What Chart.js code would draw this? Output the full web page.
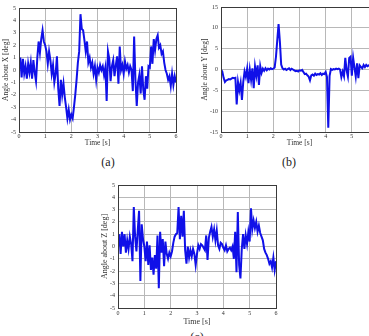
<!DOCTYPE html>
<html>
<head>
<meta charset="utf-8">
<script src="https://cdn.jsdelivr.net/npm/chart.js@4.4.1/dist/chart.umd.min.js"></script>
<style>
  html, body { margin: 0; padding: 0; background: #fff; }
  body { width: 369px; height: 336px; overflow: hidden; position: relative; font-family: "Liberation Serif", serif; }
  canvas { position: absolute; }
  #chartA { left: 0; top: 0; }
  #chartB { left: 199px; top: 0; }
  #chartC { left: 98px; top: 177px; }
  .caption { position: absolute; font-size: 12px; line-height: 12px; color: #222; transform: translateX(-50%); }
</style>
</head>
<body>
<canvas id="chartA" width="180" height="148"></canvas>
<canvas id="chartB" width="183" height="148"></canvas>
<canvas id="chartC" width="182" height="150"></canvas>
<div class="caption" style="left:108px; top:156px;">(a)</div>
<div class="caption" style="left:289px; top:156px;">(b)</div>
<div class="caption" style="left:197px; top:331px;">(c)</div>

<script>
// --- DATA (sampled every 0.05 s, 0..6 s) ---
const TIME_STEP = 0.05;

const angleX = [
  0.2, 1.0, -0.6, 0.9, -0.3, 0.3, -0.7, 0.5, -0.2, 0.6,
  -0.7, 0.8, -0.2, -0.9, 1.0, 2.3, 1.4, 2.5, 3.2, 2.3,
  2.0, 1.5, 0.5, 1.5, 0.8, -0.3, 0.4, -1.0, -0.3, 1.1,
  -1.5, -2.9, -0.8, -2.0, -1.1, -2.2, -3.0, -3.9, -3.2, -4.0,
  -3.6, -3.9, -3.0, -2.0, -0.8, 0.6, 1.5, 4.5, 3.3, 3.2,
  2.4, 1.5, 2.3, 0.6, 1.0, 0.2, 0.6, -0.3, 0.3, -0.8,
  0.2, -0.2, 0.4, 0.0, 0.3, -0.4, 0.2, -2.5, 1.5, 0.9,
  -0.9, 0.3, 0.8, -0.5, 0.4, 1.1, -1.1, 1.9, 0.0, 0.4,
  -0.3, 0.7, 0.1, 0.4, -0.2, 0.3, 0.0, -1.7, 2.7, -0.8,
  -2.9, -1.0, -0.4, -1.9, 0.3, -1.6, -2.4, -0.5, -1.5, 0.3,
  0.2, 1.9, 0.5, 2.5, 1.6, 2.5, 2.8, 1.8, 2.0, 1.3,
  1.5, 0.6, 0.0, -0.3, -0.8, -0.5, -1.3, -0.3, -1.2, -0.5,
  -1.0
];

const angleY = [
  0.0, -0.5, -2.0, -3.0, -2.6, -2.5, -2.3, -2.4, -2.2, -2.0,
  -2.1, -2.0, -8.4, -3.0, -5.0, -3.2, -7.3, -3.0, -0.5, -1.8,
  0.2, -3.3, 0.0, -2.5, 0.3, -4.5, 0.7, -1.5, 1.0, -3.7,
  0.8, -0.8, 0.2, -0.3, 0.3, -0.2, 0.2, 0.0, 0.3, 0.1,
  0.2, 0.5, 3.0, 7.0, 10.9, 6.7, 1.2, 0.3, 0.0, 0.2,
  -0.1, 0.1, 0.3, -0.1, 0.2, 0.0, -0.2, -0.4, -0.3, -0.5,
  -0.2, -0.3, -0.1, -0.6, -1.1, -1.0, -1.4, -1.7, -2.6, -1.4,
  -1.2, -1.5, -1.0, -1.3, -1.1, -1.2, -0.9, -1.3, -1.0, -1.1,
  -0.6, -1.8, -14.0, -1.5, 0.1, -0.1, 0.1, 0.0, 0.2, 0.1,
  0.2, 0.0, -1.8, -0.5, -1.6, 2.8, -0.2, -1.7, 2.8, 3.1,
  -1.5, 2.8, 0.5, -1.7, 1.5, -2.1, 1.0, 0.6, 0.3, 1.1,
  0.6, 1.1, 0.8, 1.0, 0.9, 1.2, 0.9, 1.0, 0.9, 1.0,
  1.0
];

const angleZ = [
  0.0, 1.0, -0.6, 1.2, 0.0, 1.0, -0.5, 0.5, -0.2, 0.8,
  0.2, -1.2, 3.2, 0.8, -0.4, 1.3, 2.9, -2.8, 1.8, 0.6,
  0.0, -1.2, 0.4, -1.5, 0.1, -1.9, -0.9, -2.3, -0.7, -1.8,
  0.9, -3.4, 1.2, -0.5, 0.6, -1.6, 0.4, -0.6, -1.0, -0.5,
  -0.8, -0.4, 0.3, 0.8, 1.0, 1.1, 3.2, 0.6, 2.5, 0.8,
  2.9, -0.3, -1.4, 0.0, -0.9, -0.3, -0.8, -0.2, -0.6, -1.5,
  -0.6, 0.1, -0.2, 0.2, 0.1, -0.1, -0.3, 0.9, -1.1, 0.7,
  1.2, 1.6, 0.8, 1.4, 0.5, 1.3, 0.1, -0.2, 0.3, 0.2,
  -0.1, -0.3, 0.1, -0.4, -0.2, -0.1, -0.3, 0.0, -1.0, 1.2,
  -2.1, 2.8, -1.5, -2.6, -0.2, 1.0, -0.2, 0.9, 0.2, 1.2,
  0.4, 3.1, 1.4, 2.1, 1.5, 2.0, 1.2, 1.7, 1.1, 0.8,
  0.5, -0.2, -0.5, -0.7, -1.0, -1.4, -1.2, -1.7, -0.9, -1.9,
  -1.2
];

const timeTicks = [0, 1, 2, 3, 4, 5, 6];
const yTicksSmall = [-5, -4, -3, -2, -1, 0, 1, 2, 3, 4, 5];
const yTicksWide = [-15, -10, -5, 0, 5, 10, 15];

const times = angleX.map((_, i) => +(i * TIME_STEP).toFixed(2));

// --- STYLE ---
const LINE_BLUE = '#1010e8';
const GRID_GRAY = '#b8b8b8';
const TEXT_COLOR = '#333';
const FONT = '"Liberation Serif", "Times New Roman", serif';

// draws the closed box round the plot area (MATLAB style)
const frameBox = {
    id: 'frameBox',
    afterDraw(chart) {
        const { ctx, chartArea: a } = chart;
        ctx.save();
        ctx.strokeStyle = '#3a3a3a';
        ctx.lineWidth = 1;
        ctx.strokeRect(a.left + 0.5, a.top + 0.5, a.right - a.left, a.bottom - a.top);
        ctx.restore();
    }
};

function buildChart(id, values, yTicks, yTitle, box) {
    const ctx = document.getElementById(id).getContext('2d');
    return new Chart(ctx, {
        type: 'line',
        data: {
            datasets: [{
                data: values.map((v, i) => ({ x: times[i], y: v })),
                borderColor: LINE_BLUE,
                borderWidth: 2,
                pointRadius: 0,
                tension: 0,
                fill: false
            }]
        },
        options: {
            responsive: false,
            animation: false,
            events: [],
            layout: { padding: { top: box.top, right: 4, left: 0, bottom: 0 } },
            plugins: { legend: { display: false }, tooltip: { enabled: false } },
            scales: {
                x: {
                    type: 'linear',
                    min: timeTicks[0],
                    max: timeTicks[timeTicks.length - 1],
                    afterBuildTicks: s => { s.ticks = timeTicks.map(v => ({ value: v })); },
                    afterFit: s => { s.height = box.xHeight; },
                    ticks: { padding: box.xPad, color: TEXT_COLOR, font: { family: FONT, size: 6 } },
                    grid: { color: GRID_GRAY, drawTicks: false },
                    border: { display: false },
                    title: { display: true, text: 'Time [s]', padding: 0, color: TEXT_COLOR, font: { family: FONT, size: box.titleSize } }
                },
                y: {
                    min: yTicks[0],
                    max: yTicks[yTicks.length - 1],
                    afterBuildTicks: s => { s.ticks = yTicks.map(v => ({ value: v })); },
                    afterFit: s => { s.width = box.yWidth; },
                    ticks: { padding: 3, color: TEXT_COLOR, font: { family: FONT, size: 6 } },
                    grid: { color: GRID_GRAY, drawTicks: false },
                    border: { display: false },
                    title: { display: true, text: yTitle, padding: { top: 2, bottom: 0 }, color: TEXT_COLOR, font: { family: FONT, size: box.titleSize } }
                }
            }
        },
        plugins: [frameBox]
    });
}

buildChart('chartA', angleX, yTicksSmall, 'Angle about X [deg]', { top: 8, yWidth: 19, xHeight: 16, xPad: 1, titleSize: 7.5 });
buildChart('chartB', angleY, yTicksWide, 'Angle about Y [deg]', { top: 7, yWidth: 22, xHeight: 16, xPad: 1, titleSize: 7.5 });
buildChart('chartC', angleZ, yTicksSmall, 'Angle about Z [deg]', { top: 8, yWidth: 20, xHeight: 19, xPad: 2, titleSize: 8 });
</script>
</body>
</html>
